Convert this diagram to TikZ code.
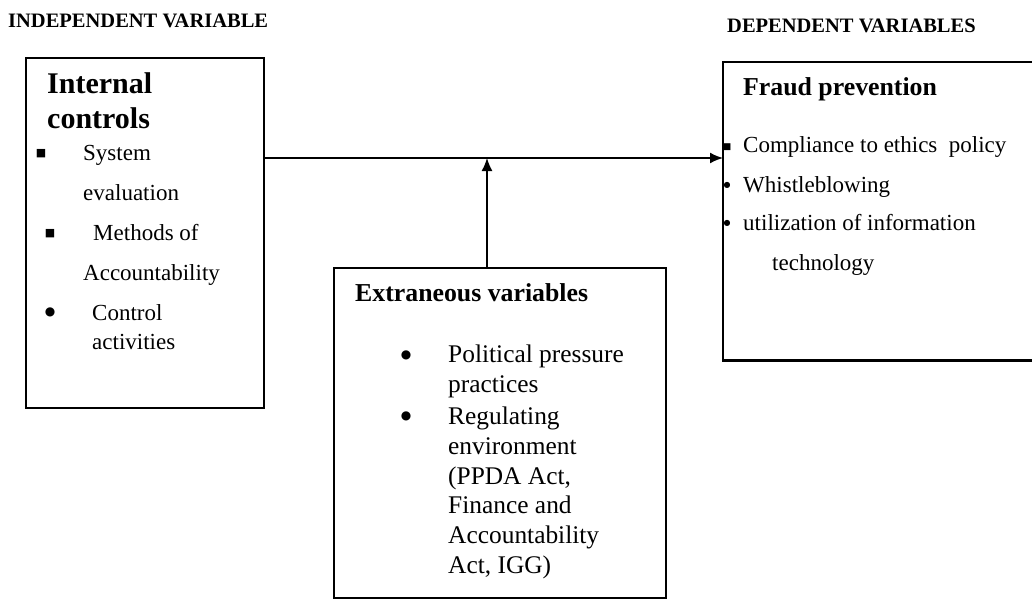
\documentclass[tikz,border=0pt]{standalone}
\usepackage{fontspec}
\setmainfont{Liberation Serif}
\newfontfamily\symfont{DejaVu Sans}
\usetikzlibrary{arrows.meta}
\tikzset{
  box/.style={draw=black, line width=2.4pt, inner sep=0pt, anchor=north west},
  txt/.style={inner sep=0pt, anchor=mid west, yshift=-5pt},
  head/.style={txt, font=\bfseries\fontsize{20.5}{24}\selectfont},
  ttl/.style={txt, font=\bfseries\fontsize{25.8}{30}\selectfont},
  bigttl/.style={txt, font=\bfseries\fontsize{30}{35}\selectfont},
  lst/.style={txt, font=\fontsize{23}{27}\selectfont},
  mlst/.style={txt, font=\fontsize{25.4}{30}\selectfont},
  sq/.style={inner sep=0pt, anchor=center, yshift=-3pt, font=\symfont\fontsize{#1}{#1}\selectfont},
  dot/.style={inner sep=0pt, anchor=center, font=\symfont\fontsize{#1}{#1}\selectfont},
  conn/.style={line width=1.8pt, -{Latex[length=13pt,width=11pt]}},
}
\begin{document}
\begin{tikzpicture}[x=1pt,y=-1pt]
\useasboundingbox (0,0) rectangle (1032,599);
% headings
\node[head] (hi) at (8,20) {INDEPENDENT VARIABLE};
\node[head] (hd) at (727,25) {DEPENDENT VARIABLES};
% boxes
\node[box, minimum width=238pt, minimum height=350pt] (ic) at (25,57) {};
\node[inner sep=0pt, anchor=north west, minimum width=309pt, minimum height=298pt] (fp) at (723,62) {};
\draw[line width=2.4pt] (fp.north east) -- (fp.north west) -- (fp.south west) -- (fp.south east);
\node[box, line width=2pt, minimum width=332pt, minimum height=330pt] (ev) at (333,267) {};
% internal controls texts
\node[bigttl] (t1) at (47,86) {Internal};
\node[bigttl] (t2) at (47,121) {controls};
\node[sq=11] (b1) at (41,151) {■};
\node[lst] (s1) at (83,153) {System};
\node[lst] (s2) at (83,193) {evaluation};
\node[sq=11] (b2) at (50,231) {■};
\node[lst] (s3) at (93,233) {Methods of};
\node[lst] (s4) at (83,273) {Accountability};
\node[dot=12] (b3) at (50,312) {●};
\node[lst] (s5) at (92,313) {Control};
\node[lst] (s6) at (92,342) {activities};
% fraud prevention texts
\node[ttl] (f0) at (743,88) {Fraud prevention};
\node[sq=9] (c1) at (727,144) {■};
\node[lst] (f1) at (743,145) {Compliance to ethics\ \ policy};
\node[dot=8] (c2) at (727,185) {●};
\node[lst] (f2) at (743,185) {Whistleblowing};
\node[dot=8] (c3) at (727,223) {●};
\node[lst] (f3) at (743,223) {utilization of information};
\node[lst] (f4) at (772,263) {technology};
% extraneous variables texts
\node[ttl] (e0) at (355,294) {Extraneous variables};
\node[dot=12] (d1) at (406,355) {●};
\node[mlst] (e1) at (448,355) {Political pressure};
\node[mlst] (e2) at (448,385) {practices};
\node[dot=12] (d2) at (406,416) {●};
\node[mlst] (e3) at (448,417) {Regulating};
\node[mlst] (e4) at (448,447) {environment};
\node[mlst] (e5) at (448,477) {(PPDA Act,};
\node[mlst] (e6) at (448,506) {Finance and};
\node[mlst] (e7) at (448,536) {Accountability};
\node[mlst] (e8) at (448,566) {Act, IGG)};
% connectors
\coordinate (j) at (487,158);
\draw[conn] (ic.east |- j) -- (fp.west |- j);
\draw[conn, line width=1.5pt] (ev.north -| j) -- (j);
\end{tikzpicture}
\end{document}
